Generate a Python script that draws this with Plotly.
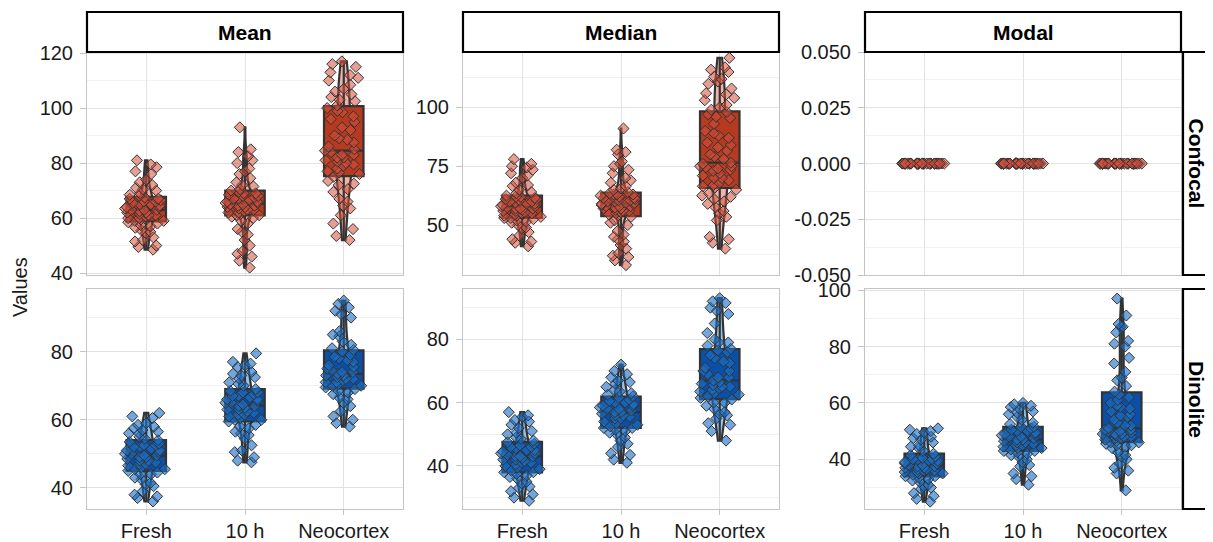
import plotly.graph_objects as go

# ---------------- data ----------------
categories = ["Fresh", "10 h", "Neocortex"]
stat_labels = ["Mean", "Median", "Modal"]
device_labels = ["Confocal", "Dinolite"]
modal_confocal_ticks = ["-0.050", "-0.025", "0.000", "0.025", "0.050"]
modal_confocal_tickvals = [-0.05, -0.025, 0.0, 0.025, 0.05]

# Confocal - Mean
mean_confocal_fresh = [48.5, 49.5, 50, 51.5, 53, 54.5, 55.5, 56.5, 57, 58, 58.5, 59, 59.5, 60, 60.5,
                       61, 61.5, 62, 62.5, 63, 63, 63.5, 64, 64.5, 65, 65.5, 66, 66.5, 67, 67.5,
                       68, 69, 70, 71, 72, 74, 76, 77, 78.5, 81,
                       52, 55, 57.5, 59, 60, 61, 62, 63, 64, 65, 66, 67, 68.5, 70.5, 73, 79.5]
mean_confocal_10h = [42, 44.5, 46, 48, 50, 52, 54, 56, 58, 60, 60.5, 61, 61.5, 62, 62.5, 63, 63.5,
                     64, 64, 64.5, 65, 65, 65.5, 66, 66.5, 67, 67.5, 68, 68.5, 69, 69.5, 70, 70.5,
                     71.5, 73, 74.5, 76, 78, 80, 82.5, 84, 85, 93,
                     47, 55, 59, 61, 62, 63, 64.5, 65.5, 66, 67, 68, 69, 72, 77, 81]
mean_confocal_neocortex = [52, 53.5, 56, 61, 63.5, 64.5, 67, 69.5, 70.5, 72, 73.5, 75, 76, 77, 78,
                           79, 80, 80.5, 81, 82, 83, 83, 84, 85, 86, 87.5, 88.5, 90, 93, 95, 97,
                           98.5, 100, 101, 102.5, 104, 105, 106, 108.5, 110, 111, 113, 115, 117,
                           58, 66, 72.5, 76.5, 79.5, 82, 84.5, 89, 92, 96, 99, 103, 107, 112, 116]
# Confocal - Median
median_confocal_fresh = [41, 42.5, 44, 45.5, 47, 48.5, 50, 51, 52, 52.5, 53, 53.5, 54, 54.5, 55,
                         55.5, 56, 56.5, 57, 57, 57.5, 58, 58.5, 59, 59.5, 60, 60.5, 61, 61.5, 62,
                         62.5, 63.5, 65, 66.5, 68, 70, 72, 73.5, 75, 76, 78,
                         43, 49, 51.5, 53, 54, 55, 56, 57, 58, 59, 60, 61, 62, 64, 67, 71, 74.5]
median_confocal_10h = [33, 35, 36.5, 38, 40, 41.5, 43, 44, 46, 47.5, 50, 52, 53.5, 54.5, 55, 55.5,
                       56, 56.5, 57, 57.5, 58, 58, 58.5, 59, 59, 59.5, 60, 60, 60.5, 61, 61.5,
                       61.5, 62, 62.5, 63, 63, 63.5, 64, 65, 66.5, 68, 70, 72, 73.5, 76, 77, 80,
                       81, 82, 91,
                       37, 45, 51, 54, 56, 57, 58, 59.5, 60.5, 62, 63, 65.5, 69, 75]
median_confocal_neocortex = [40, 42.5, 45, 52, 53.5, 56, 57.5, 59, 60, 61, 62.5, 63.5, 65, 66, 67,
                             68, 69, 70, 71, 72, 73, 74, 74.5, 75, 75, 76, 79, 80, 81.5, 83, 85,
                             87, 88, 90, 93, 95.5, 97, 98, 99, 101, 103, 104, 105.5, 108, 110,
                             112, 113, 115, 117, 121,
                             44, 55, 62, 66.5, 70, 73.5, 76.5, 78, 84, 89, 96, 100, 106, 111, 116]
# Confocal - Modal
modal_confocal_fresh = [0, 0, 0, 0, 0, 0, 0, 0, 0, 0, 0, 0, 0, 0, 0, 0, 0, 0, 0, 0,
                        0, 0, 0, 0, 0, 0, 0, 0, 0, 0, 0, 0, 0, 0, 0, 0, 0, 0, 0, 0]
modal_confocal_10h = [0, 0, 0, 0, 0, 0, 0, 0, 0, 0, 0, 0, 0, 0, 0, 0, 0, 0, 0, 0,
                      0, 0, 0, 0, 0, 0, 0, 0, 0, 0, 0, 0, 0, 0, 0, 0, 0, 0, 0, 0]
modal_confocal_neocortex = [0, 0, 0, 0, 0, 0, 0, 0, 0, 0, 0, 0, 0, 0, 0, 0, 0, 0, 0, 0,
                            0, 0, 0, 0, 0, 0, 0, 0, 0, 0, 0, 0, 0, 0, 0, 0, 0, 0, 0, 0]

# Dinolite - Mean
mean_dinolite_fresh = [36, 37, 38, 39, 40.5, 41.5, 42.5, 43, 44, 44.5, 45, 45.5, 46, 46.5, 47, 47.5,
                       48, 48.5, 49, 49.5, 49.5, 50, 50.5, 51, 51.5, 52, 52, 52.5, 53, 53.5, 54,
                       55, 56, 56.5, 57, 57.5, 58, 59, 60.5, 62,
                       37.5, 41, 44, 45.5, 47, 48, 49, 50, 51, 52.5, 54.5, 56, 58.5, 61]
mean_dinolite_10h = [47.5, 48, 49, 50.5, 52.5, 54.5, 55.5, 56.5, 57.5, 58.5, 59.5, 60, 60.5, 61,
                     61.5, 62, 62.5, 63, 63.5, 64, 64.5, 65, 65.5, 66, 66.5, 67, 67.5, 68, 68.5,
                     69, 70, 71, 72, 72.5, 73.5, 74, 75.5, 76, 77, 79.5,
                     51, 56, 58, 60, 61.5, 63, 64, 65, 66, 67, 68, 70.5, 73, 76.5]
mean_dinolite_neocortex = [58, 59, 60, 62.5, 64, 65, 66.5, 67.5, 68, 69, 69.5, 70, 70.5, 71, 71.5,
                           72, 72.5, 73, 73.5, 74, 74.5, 75, 76, 77, 77.5, 78, 79, 80, 81, 82, 83,
                           84.5, 86, 90, 92, 93, 94, 95,
                           61, 66, 68.5, 70, 71, 72, 73, 74, 75.5, 78.5, 80.5, 85, 91]
# Dinolite - Median
median_dinolite_fresh = [29, 31, 32, 33, 34.5, 35, 36, 37, 37.5, 38, 38.5, 39, 40, 40.5, 41, 41.5,
                         42, 42.5, 43, 43, 43.5, 44, 44.5, 45, 45.5, 46, 46.5, 47, 47.5, 48, 49,
                         50, 51, 52, 53, 54, 55.5, 56, 57,
                         30, 33.5, 36.5, 38, 39.5, 41, 42, 43, 44, 45, 46, 48.5, 50.5, 54.5]
median_dinolite_10h = [41, 42, 43.5, 46, 48, 49, 50, 51, 51.5, 52, 52.5, 53, 54, 55, 55.5, 56, 56.5,
                       57, 57.5, 58, 58.5, 59, 59.5, 60, 60.5, 61, 62, 62.5, 63, 64, 65, 66, 67,
                       68, 70, 72,
                       44, 47, 50.5, 52, 53.5, 55, 56, 57, 58, 59, 60, 61.5, 63.5, 66.5, 69]
median_dinolite_neocortex = [48, 53, 53.5, 55, 56, 57, 58, 59, 60, 61, 61.5, 62, 63, 64, 64.5, 65,
                             65.5, 66, 67, 68, 69, 70, 71, 72.5, 74, 75, 76, 77, 78, 79, 80, 85,
                             88, 90, 91.5, 92, 93,
                             51, 56.5, 60, 62.5, 63.5, 65, 66.5, 68, 70, 73, 76.5, 79, 82, 89]
# Dinolite - Modal
modal_dinolite_fresh = [25, 27, 28, 29.5, 30.5, 31, 32, 33, 33.5, 34, 34.5, 35, 35, 35.5, 36, 36,
                        36.5, 37, 37, 37.5, 38, 38, 38.5, 39, 39.5, 39.5, 40, 40, 40.5, 41, 42,
                        43, 44, 45, 46, 47, 48, 49, 50, 50.5, 51,
                        26, 30, 32.5, 34, 35.5, 36.5, 37.5, 38.5, 40, 41.5, 44.5, 47.5, 49.5]
modal_dinolite_10h = [31, 33, 35, 37.5, 39, 40, 41, 42, 42.5, 43, 43.5, 44, 44.5, 45, 45.5, 46,
                      46.5, 47, 47.5, 48, 48.5, 49, 49.5, 50, 50.5, 51, 51.5, 52.5, 54, 55, 56, 57,
                      58, 58.5, 59, 60,
                      34, 38, 41.5, 43, 44, 45, 46, 47, 48, 49, 50, 51.5, 53, 56.5, 59.5]
modal_dinolite_neocortex = [29, 35, 37, 38.5, 40, 41.5, 42.5, 44, 45, 45, 45.5, 46, 46.5, 47, 47.5,
                            48, 48, 48.5, 49, 49, 49.5, 50, 50, 50.5, 51, 52, 53, 54, 55.5, 56, 57,
                            58, 59, 60, 61, 62, 64, 66, 69, 71, 76, 81, 82, 85, 87, 88, 91, 97,
                            36, 41, 44.5, 46, 47.5, 49, 50.5, 52, 55, 58.5, 63, 68, 74, 80, 87]

data = {
    ("Confocal", "Mean"): [mean_confocal_fresh, mean_confocal_10h, mean_confocal_neocortex],
    ("Confocal", "Median"): [median_confocal_fresh, median_confocal_10h, median_confocal_neocortex],
    ("Confocal", "Modal"): [modal_confocal_fresh, modal_confocal_10h, modal_confocal_neocortex],
    ("Dinolite", "Mean"): [mean_dinolite_fresh, mean_dinolite_10h, mean_dinolite_neocortex],
    ("Dinolite", "Median"): [median_dinolite_fresh, median_dinolite_10h, median_dinolite_neocortex],
    ("Dinolite", "Modal"): [modal_dinolite_fresh, modal_dinolite_10h, modal_dinolite_neocortex],
}

# ---------------- style ----------------
PAGE_W, PAGE_H = 1213, 542
OFF = 8  # default page body margin
W, H = PAGE_W - OFF, PAGE_H - OFF


def px(xp):
    return (xp - OFF) / W


def py(yp):
    return 1 - (yp - OFF) / H


FONT = "Liberation Sans, Arial, Helvetica, sans-serif"
box_fill = {"Confocal": "#B63A1F", "Dinolite": "#0A50A8"}
point_fill = {"Confocal": "rgba(212,78,58,0.55)", "Dinolite": "rgba(28,112,198,0.62)"}
violin_fill = {"Confocal": "rgba(225,120,100,0.55)", "Dinolite": "rgba(70,145,215,0.55)"}
outline = "#333333"
grid_major = "#e2e2e2"
grid_minor = "#f1f1f1"
border = "#c4c4c4"

xdom = [[px(87), px(403)], [px(463), px(779)], [px(865), px(1181)]]
ydom = [[py(275), py(52)], [py(509), py(289)]]
yranges = {(0, 0): [39.3, 120.4], (0, 1): [28.8, 123.5], (0, 2): [-0.05, 0.05],
           (1, 0): [33.8, 98.4], (1, 1): [26.4, 95.9], (1, 2): [22.4, 100.4]}
ydticks = {(0, 0): 20, (0, 1): 25, (0, 2): 0.025, (1, 0): 20, (1, 1): 20, (1, 2): 20}

fig = go.Figure()

for r, dev in enumerate(device_labels):
    for c, st in enumerate(stat_labels):
        n = r * 3 + c + 1
        xa = "x" if n == 1 else f"x{n}"
        ya = "y" if n == 1 else f"y{n}"
        for cat, vals in zip(categories, data[(dev, st)]):
            xs = [cat] * len(vals)
            fig.add_trace(go.Box(
                x=xs, y=vals, xaxis=xa, yaxis=ya, boxpoints=False, width=0.4, whiskerwidth=0,
                fillcolor=box_fill[dev], line=dict(color=outline, width=2.2),
                showlegend=False, hoverinfo="skip"))
            if max(vals) > min(vals):
                fig.add_trace(go.Violin(
                    x=xs, y=vals, xaxis=xa, yaxis=ya, width=0.16, spanmode="hard",
                    scalemode="width", points=False, fillcolor=violin_fill[dev],
                    line=dict(color=outline, width=2.2), showlegend=False, hoverinfo="skip"))
            fig.add_trace(go.Box(
                x=xs, y=vals, xaxis=xa, yaxis=ya, boxpoints="all", jitter=1.0, pointpos=0,
                width=0.46, whiskerwidth=0, fillcolor="rgba(0,0,0,0)",
                line=dict(color="rgba(0,0,0,0)", width=0),
                marker=dict(symbol="diamond", size=8.5, color=point_fill[dev],
                            line=dict(color=outline, width=1)),
                showlegend=False, hoverinfo="skip"))

layout = dict(
    width=W, height=H, margin=dict(l=0, r=0, t=0, b=0, autoexpand=False),
    paper_bgcolor="white", plot_bgcolor="white",
    font=dict(family=FONT, size=20, color="#1a1a1a"),
    showlegend=False, boxmode="overlay", violinmode="overlay",
)

for r in range(2):
    for c in range(3):
        n = r * 3 + c + 1
        key = "" if n == 1 else str(n)
        layout[f"xaxis{key}"] = dict(
            domain=xdom[c], anchor=f"y{key}", type="category", automargin=False,
            categoryorder="array", categoryarray=categories, range=[-0.6, 2.6],
            showgrid=True, gridcolor=grid_major, gridwidth=1,
            showline=True, mirror=True, linecolor=border, linewidth=1, zeroline=False,
            ticks="outside" if r == 1 else "", ticklen=5, tickcolor=border,
            showticklabels=(r == 1), ticklabelstandoff=-1,
            tickfont=dict(family=FONT, size=20, color="#1a1a1a"))
        dt = ydticks[(r, c)]
        yax = dict(
            domain=ydom[r], anchor=f"x{key}", range=yranges[(r, c)], automargin=False,
            tick0=0, dtick=dt, showgrid=True, gridcolor=grid_major, gridwidth=1,
            minor=dict(dtick=dt / 2, tick0=0, showgrid=True, gridcolor=grid_minor, gridwidth=1),
            showline=True, mirror=True, linecolor=border, linewidth=1, zeroline=False,
            ticks="outside", ticklen=6, tickcolor=border, ticklabelstandoff=3,
            tickfont=dict(family=FONT, size=20, color="#1a1a1a"))
        if (r, c) == (0, 2):
            yax.update(tickmode="array", tickvals=modal_confocal_tickvals,
                       ticktext=modal_confocal_ticks)
        layout[f"yaxis{key}"] = yax

shapes = []
annotations = []
for c, st in enumerate(stat_labels):
    shapes.append(dict(type="rect", xref="paper", yref="paper",
                       x0=xdom[c][0], x1=xdom[c][1], y0=py(52), y1=py(12),
                       line=dict(color="black", width=2.2), fillcolor="white", layer="above"))
    annotations.append(dict(xref="paper", yref="paper", x=(xdom[c][0] + xdom[c][1]) / 2,
                            y=py(32), text=f"<b>{st}</b>", showarrow=False,
                            font=dict(family=FONT, size=21, color="black"),
                            xanchor="center", yanchor="middle"))
for r, dev in enumerate(device_labels):
    shapes.append(dict(type="rect", xref="paper", yref="paper",
                       x0=px(1183), x1=1.05, y0=ydom[r][0], y1=ydom[r][1],
                       line=dict(color="black", width=2.2), fillcolor="white", layer="above"))
    annotations.append(dict(xref="paper", yref="paper", x=px(1196),
                            y=(ydom[r][0] + ydom[r][1]) / 2, text=f"<b>{dev}</b>",
                            showarrow=False, textangle=90,
                            font=dict(family=FONT, size=21, color="black"),
                            xanchor="center", yanchor="middle"))
annotations.append(dict(xref="paper", yref="paper", x=px(20), y=py(287), text="Values",
                        showarrow=False, textangle=-90,
                        font=dict(family=FONT, size=20, color="#1a1a1a"),
                        xanchor="center", yanchor="middle"))
layout["shapes"] = shapes
layout["annotations"] = annotations

fig.update_layout(**layout)
fig.write_html("out.html")
